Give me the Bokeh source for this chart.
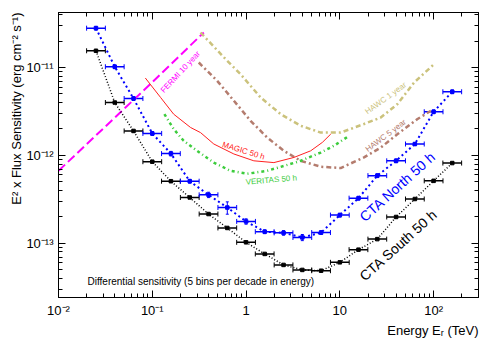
from bokeh.plotting import figure
from bokeh.models import (ColumnDataSource, Whisker, TeeHead, Label, LogAxis,
                          FixedTicker, CustomJSTickFormatter, Title)
from bokeh.embed import file_html
from bokeh.resources import INLINE

# ---------------- data ----------------
# CTA energy bin centres (TeV), 5 bins per decade
energy = [0.0251, 0.0398, 0.0631, 0.1, 0.158, 0.251, 0.398, 0.631, 1.0, 1.58,
          2.51, 3.98, 6.31, 10.0, 15.8, 25.1, 39.8, 63.1, 100.0, 158.0]
bins_per_decade = 5

cta_south = [1.55e-11, 4.0e-12, 1.9e-12, 8.5e-13, 5.1e-13, 3.33e-13, 2.16e-13,
             1.5e-13, 1.03e-13, 7.6e-14, 5.7e-14, 5.0e-14, 4.9e-14, 6.1e-14,
             8.5e-14, 1.12e-13, 2.0e-13, 3.2e-13, 5.15e-13, 8.2e-13]
cta_north = [2.8e-11, 1.02e-11, 4.44e-12, 1.78e-12, 1.05e-12, 5.1e-13, 3.57e-13,
             2.56e-13, 1.78e-13, 1.36e-13, 1.32e-13, 1.17e-13, 1.33e-13, 2.1e-13,
             3.27e-13, 5.9e-13, 8.7e-13, 1.35e-12, 3.14e-12, 5.3e-12]
cta_north_relerr = [0.05, 0.05, 0.05, 0.05, 0.06, 0.05, 0.07, 0.16, 0.07, 0.05,
                    0.06, 0.08, 0.05, 0.05, 0.05, 0.05, 0.05, 0.04, 0.05, 0.05]

fermi_e = [0.01, 0.1, 0.354]
fermi_s = [6.7e-13, 6.8e-12, 2.5e-11]

magic_e = [0.0843, 0.1227, 0.169, 0.256, 0.327, 0.453, 0.741, 1.21, 1.98, 3.24,
           4.89, 6.52, 8.0]
magic_s = [7.6e-12, 4.56e-12, 2.95e-12, 2.08e-12, 1.82e-12, 1.35e-12, 1.04e-12,
           8.7e-13, 8.3e-13, 9.5e-13, 1.13e-12, 1.41e-12, 1.75e-12]

veritas_e = [0.1346, 0.169, 0.216, 0.301, 0.453, 0.682, 1.03, 1.68, 2.53, 3.82,
             6.25, 8.67, 12.5]
veritas_s = [2.95e-12, 2.0e-12, 1.47e-12, 1.13e-12, 8.3e-13, 6.7e-13, 6.2e-13,
             6.7e-13, 7.6e-13, 8.7e-13, 1.08e-12, 1.29e-12, 1.67e-12]

hawc1_e = [0.327, 0.63, 0.873, 1.43, 2.34, 3.82, 6.25, 10.2, 18.1, 27.3, 41.2,
           62.0, 101.0]
hawc1_s = [2.5e-11, 1.19e-11, 8.4e-12, 4.56e-12, 2.95e-12, 2.18e-12, 1.82e-12,
           1.82e-12, 2.28e-12, 2.7e-12, 3.84e-12, 6.76e-12, 1.09e-11]

hawc5_e = [0.313, 0.492, 0.741, 1.117, 1.68, 2.53, 3.82, 6.25, 10.2, 18.1, 27.3,
           41.2, 67.4, 93.5]
hawc5_s = [1.14e-11, 7.06e-12, 4.19e-12, 2.48e-12, 1.6e-12, 1.13e-12, 8.7e-13,
           7.45e-13, 7.2e-13, 9.5e-13, 1.23e-12, 1.75e-12, 2.6e-12, 3.22e-12]

x_major = [0.01, 0.1, 1.0, 10.0, 100.0]
y_major = [1e-13, 1e-12, 1e-11]

x_title = "Energy E\u1d63 (TeV)"
y_title = "E\u00b2 x Flux Sensitivity (erg cm\u207b\u00b2 s\u207b\u00b9)"

# ---------------- figure ----------------
FONT = "Liberation Sans"
p = figure(width=489, height=339, x_axis_type="log", y_axis_type="log",
           x_range=(0.01, 301.0), y_range=(2.43e-14, 4.22e-11),
           output_backend="svg", toolbar_location=None,
           min_border_left=58, min_border_right=11, min_border_top=12,
           min_border_bottom=42)
p.grid.visible = False
p.outline_line_color = "black"
p.outline_line_width = 1
p.background_fill_color = "white"

x_minor = [m * d for d in x_major[:-1] for m in range(2, 10)] + [200.0, 300.0]
y_minor = [m * 1e-14 for m in range(2, 10)] + \
          [m * d for d in y_major[:-1] for m in range(2, 10)] + [2e-11, 3e-11, 4e-11]
xt = FixedTicker(ticks=x_major, minor_ticks=x_minor)
yt = FixedTicker(ticks=y_major, minor_ticks=y_minor)

fmt_code = """
const e = Math.round(Math.log10(tick));
if (e == 0) return "1";
if (e == 1) return "10";
const sup = {"-":"\u207b","0":"\u2070","1":"\u00b9","2":"\u00b2","3":"\u00b3",
             "4":"\u2074","5":"\u2075","6":"\u2076","7":"\u2077","8":"\u2078","9":"\u2079"};
return "10" + String(e).split("").map(c => sup[c]).join("");
"""

def style_axis(ax, labels=True):
    ax.major_tick_in = 7
    ax.major_tick_out = 0
    ax.minor_tick_in = 4
    ax.minor_tick_out = 0
    ax.axis_line_color = "black"
    ax.major_tick_line_color = "black"
    ax.minor_tick_line_color = "black"
    if labels:
        ax.formatter = CustomJSTickFormatter(code=fmt_code)
        ax.major_label_text_font = FONT
        ax.major_label_text_font_size = "13px"
        ax.major_label_text_color = "black"
        ax.major_label_standoff = 5
    else:
        ax.major_label_text_font_size = "1px"
        ax.major_label_text_color = None
        ax.major_label_standoff = 0

p.xaxis.ticker = xt
p.yaxis.ticker = yt
style_axis(p.xaxis[0])
style_axis(p.yaxis[0])

top = LogAxis(ticker=xt)
right = LogAxis(ticker=yt)
style_axis(top, labels=False)
style_axis(right, labels=False)
p.add_layout(top, "above")
p.add_layout(right, "right")

# axis titles as side titles (right/top aligned like the reference)
p.add_layout(Title(text=x_title, align="right", text_font=FONT,
                   text_font_size="13px", text_font_style="normal",
                   text_color="black", standoff=0, offset=0), "below")
p.add_layout(Title(text=y_title, align="right", text_font=FONT,
                   text_font_size="13px", text_font_style="normal",
                   text_color="black", standoff=0, offset=0), "left")

# ---------------- other instruments ----------------
p.line(fermi_e, fermi_s, line_color="#ff00ff", line_width=2, line_dash="9 4")
p.line(hawc1_e, hawc1_s, line_color="#cbc27c", line_width=2.5, line_dash="5 3 2 3")
p.line(hawc5_e, hawc5_s, line_color="#b47c6e", line_width=2.5, line_dash="5 3 2 3")
p.line(veritas_e, veritas_s, line_color="#3ccc3c", line_width=2.5, line_dash="3 3 1 3")
p.line(magic_e, magic_s, line_color="#ff2020", line_width=1)

# ---------------- CTA ----------------
lo = [e * 10 ** (-0.5 / bins_per_decade) for e in energy]
hi = [e * 10 ** (0.5 / bins_per_decade) for e in energy]
south = ColumnDataSource(dict(e=energy, s=cta_south, lo=lo, hi=hi))
north = ColumnDataSource(dict(
    e=energy, s=cta_north, lo=lo, hi=hi,
    slo=[v * (1 - r) for v, r in zip(cta_north, cta_north_relerr)],
    shi=[v * (1 + r) for v, r in zip(cta_north, cta_north_relerr)]))

p.line("e", "s", source=south, line_color="black", line_width=1.5, line_dash="1 2")
p.line("e", "s", source=north, line_color="#0000ff", line_width=2, line_dash="2 3")

for src, col in ((south, "black"), (north, "#0000ff")):
    w = Whisker(source=src, base="s", lower="lo", upper="hi", dimension="width",
                line_color=col, line_width=1.5,
                lower_head=TeeHead(size=5, line_color=col, line_width=1),
                upper_head=TeeHead(size=5, line_color=col, line_width=1))
    p.add_layout(w)
wv = Whisker(source=north, base="e", lower="slo", upper="shi", dimension="height",
             line_color="#0000ff", line_width=1,
             lower_head=TeeHead(size=3, line_color="#0000ff", line_width=1),
             upper_head=TeeHead(size=3, line_color="#0000ff", line_width=1))
p.add_layout(wv)

p.scatter("e", "s", source=south, marker="square", size=3.5, color="black")
p.scatter("e", "s", source=north, marker="square", size=3.5, color="#0000ff")

# ---------------- text ----------------
def lab(x, y, text, size, color="black", angle=0, align="center",
        baseline="middle"):
    p.add_layout(Label(x=x, y=y, text=text, text_font=FONT,
                       text_font_size=size, text_color=color, angle=angle,
                       angle_units="deg", text_align=align,
                       text_baseline=baseline))

lab(0.2, 8.9e-12, "FERMI 10 year", "8px", "#ff00ff", 47)
lab(0.94, 1.13e-12, "MAGIC 50 h", "8px", "#ff2020", -17)
lab(1.86, 5.25e-13, "VERITAS 50 h", "8px", "#3ccc3c", 5)
lab(30.9, 4.47e-12, "HAWC 1 year", "8px", "#cbc27c", 36)
lab(30.9, 1.68e-12, "HAWC 5 year", "8px", "#b47c6e", 37)
lab(41.2, 4.43e-13, "CTA North 50 h", "14px", "#0000ff", 42)
lab(42.1, 9.6e-14, "CTA South 50 h", "14px", "black", 42)
lab(0.0204, 3.67e-14, "Differential sensitivity (5 bins per decade in energy)",
    "10px", "black", 0, "left")

open("out.html", "w").write(file_html(p, INLINE))
